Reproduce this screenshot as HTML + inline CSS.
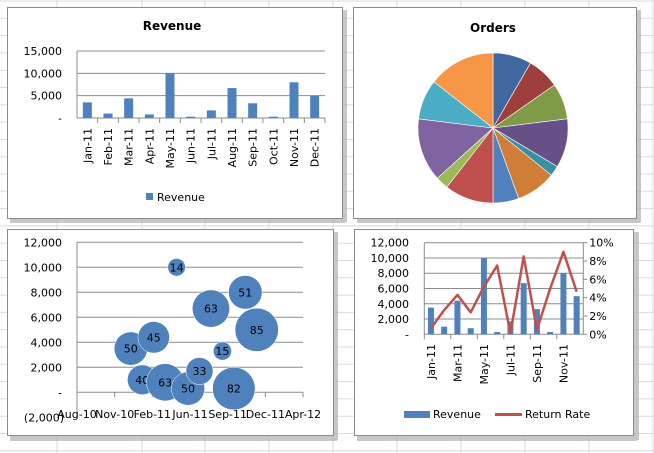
<!DOCTYPE html>
<html><head><meta charset="utf-8"><style>
body{margin:0;width:654px;height:453px;overflow:hidden;background:#fff;font-family:"DejaVu Sans",sans-serif;}
svg{position:absolute;left:0;top:0}
</style></head><body>
<svg width="654" height="453" font-family="DejaVu Sans, Liberation Sans, sans-serif">
<g id="grid" stroke="#d5dbe6" stroke-width="1"></g>
<g fill="#b0b0b0" opacity="0.7">
<rect x="10" y="219" width="335" height="4"/><rect x="343" y="10" width="4" height="212"/>
<rect x="357" y="219" width="283" height="4"/><rect x="637" y="10" width="4" height="212"/>
<rect x="10" y="436" width="327" height="5"/><rect x="334" y="232" width="4" height="208"/>
<rect x="357" y="436" width="280" height="5"/><rect x="634" y="232" width="5" height="208"/>
</g>
<rect x="7.5" y="7.5" width="335" height="211" fill="#fff" stroke="#8c8c8c"/>
<rect x="353.5" y="7.5" width="283" height="211" fill="#fff" stroke="#8c8c8c"/>
<rect x="7.5" y="229.5" width="326" height="206" fill="#fff" stroke="#8c8c8c"/>
<rect x="354.5" y="229.5" width="279" height="206" fill="#fff" stroke="#8c8c8c"/>
<g id="c1"></g><g id="c2"></g><g id="c3"></g><g id="c4"></g>
</svg>
<script>
const months=["Jan-11","Feb-11","Mar-11","Apr-11","May-11","Jun-11","Jul-11","Aug-11","Sep-11","Oct-11","Nov-11","Dec-11"];
const revenue=[3500,1000,4400,800,10000,300,1700,6700,3300,300,8000,5000];
const revTicks=[0,5000,10000,15000];
const orderSlices=[30,25,28,38,8,31,20,38,10,49,31,52];
const bubbleX=[0,1,2,3,4,5,6,7,8,9,10,11];
const bubbleY=[3500,1000,4400,800,10000,300,1700,6700,3300,300,8000,5000];
const bubbleSize=[50,40,45,63,14,50,33,63,15,82,51,85];
const bubbleXTicks=["Aug-10","Nov-10","Feb-11","Jun-11","Sep-11","Dec-11","Apr-12"];
const bubbleYTicks=[-2000,0,2000,4000,6000,8000,10000,12000];
const returnRate=[0.65,2.65,4.3,2.4,5.2,7.5,0.1,8.5,0.5,5.0,9.0,4.65];
const comboYTicks=[0,2000,4000,6000,8000,10000,12000];
const comboY2Ticks=[0,2,4,6,8,10];
const NS="http://www.w3.org/2000/svg";
function mk(p,tag,a,txt){const e=document.createElementNS(NS,tag);for(const k in a)e.setAttribute(k,a[k]);if(txt!==undefined)e.textContent=txt;p.appendChild(e);return e;}
function fmt(v){if(v===0)return "-";const s=Math.abs(v).toLocaleString("en-US");return v<0?"("+s+")":s;}
const g=document.getElementById("grid");
[57,142,205,269,333,397,461,525,589,653].forEach(x=>{const l=mk(g,"line",{x1:x,y1:0,x2:x,y2:453});});
for(let y=1;y<453;y+=17.3){const l=mk(g,"line",{x1:0,y1:y,x2:654,y2:y});}
// chart1
(function(){const c=document.getElementById("c1");
const x0=77,x1=325,y0=118,y1=51,max=15000;const bw=(x1-x0)/12;
const ys=v=>y0-(v/max)*(y0-y1);
let t=mk(c,"text",{x:172,y:30,"font-size":12,"font-weight":"bold","text-anchor":"middle"},"Revenue");
revTicks.forEach(v=>{if(v>0){const l=mk(c,"line",{x1:x0,x2:x1,y1:ys(v),y2:ys(v),stroke:"#8c8c8c"});}
const tt=mk(c,"text",{x:62,y:ys(v)+4,"font-size":11,"text-anchor":"end"},fmt(v));});
mk(c,"line",{x1:x0,x2:x0,y1:y1,y2:y0,stroke:"#8c8c8c"});
mk(c,"line",{x1:x0,x2:x1,y1:y0,y2:y0,stroke:"#8c8c8c"});
revenue.forEach((v,i)=>{const r=mk(c,"rect",{x:x0+i*bw+bw/2-4.5,y:ys(v),width:9,height:y0-ys(v),fill:"#4f81bd"});
mk(c,"line",{x1:x0+(i+1)*bw,x2:x0+(i+1)*bw,y1:y0,y2:y0+5,stroke:"#8c8c8c"});
const cx=x0+i*bw+bw/2+4;const l=mk(c,"text",{x:cx,y:128,"font-size":11,"text-anchor":"end",transform:`rotate(-90 ${cx} 128)`},months[i]);});
const lg=mk(c,"g",{});
mk(lg,"rect",{x:146,y:193,width:7,height:7,fill:"#4f81bd"});mk(lg,"text",{x:157,y:201,"font-size":11},"Revenue");})();
// chart2 pie
(function(){const c=document.getElementById("c2");
let t=mk(c,"text",{x:493,y:32,"font-size":12,"font-weight":"bold","text-anchor":"middle"},"Orders");
const cols=["#4068a0","#9e3f3e","#7f9b48","#674f88","#3a8fa3","#cf7d37","#4f81bd","#c0504d","#9bbb59","#8064a2","#4bacc6","#f79646"];
const tot=orderSlices.reduce((a,b)=>a+b,0);const cx=493,cy=128,r=75;let a=0;
orderSlices.forEach((v,i)=>{const a2=a+v/tot*2*Math.PI;
const p=(q)=>[cx+r*Math.sin(q),cy-r*Math.cos(q)];const [sx,sy]=p(a),[ex,ey]=p(a2);
const s=mk(c,"path",{d:`M${cx},${cy}L${sx},${sy}A${r},${r} 0 ${a2-a>Math.PI?1:0} 1 ${ex},${ey}Z`,fill:cols[i],stroke:"#fff","stroke-width":0.6});
a=a2;});})();
// chart3 bubble
(function(){const c=document.getElementById("c3");
const x0=77,x1=303,yTop=242.3,yZero=392.3,per=(yZero-yTop)/12000;const ys=v=>yZero-v*per;
const xmin=-4.7,step=3.29,pxm=(x1-x0)/(6*step);const xs=v=>x0+(v-xmin)*pxm;
bubbleYTicks.forEach(v=>{if(v>0){const l=mk(c,"line",{x1:x0,x2:x1,y1:ys(v),y2:ys(v),stroke:"#8c8c8c"});}
const tt=mk(c,"text",{x:v<0?64:62,y:ys(v)+4,"font-size":11,"text-anchor":"end"},fmt(v));});
mk(c,"line",{x1:x0,x2:x0,y1:yTop,y2:ys(-2000),stroke:"#8c8c8c"});
mk(c,"line",{x1:x0,x2:x1,y1:yZero,y2:yZero,stroke:"#8c8c8c"});
bubbleXTicks.forEach((s,i)=>{const x=x0+i*step*pxm;mk(c,"line",{x1:x,x2:x,y1:yZero,y2:yZero+5,stroke:"#8c8c8c"});
const tt=mk(c,"text",{x:x,y:418,"font-size":11,"text-anchor":"middle"},s);});
bubbleX.forEach((m,i)=>{const r=21.7*Math.sqrt(bubbleSize[i]/85);const cx=xs(m),cy=ys(bubbleY[i]);
const b=mk(c,"circle",{cx:cx,cy:cy,r:r,fill:"#4f81bd",stroke:"#fff","stroke-width":0.5});
const l=mk(c,"text",{x:cx,y:cy+4,"font-size":11,"text-anchor":"middle"},bubbleSize[i]);});})();
// chart4 combo
(function(){const c=document.getElementById("c4");
const x0=424.3,x1=583.3,y0=334.3,y1=242.7;const bw=(x1-x0)/12;
const ys=v=>y0-v/12000*(y0-y1),yr=v=>y0-v/10*(y0-y1);
comboYTicks.forEach(v=>{if(v>0){const l=mk(c,"line",{x1:x0,x2:x1,y1:ys(v),y2:ys(v),stroke:"#8c8c8c"});}
const tt=mk(c,"text",{x:409,y:ys(v)+4,"font-size":11,"text-anchor":"end"},fmt(v));});
comboY2Ticks.forEach(v=>{mk(c,"line",{x1:x1,x2:x1+4,y1:yr(v),y2:yr(v),stroke:"#8c8c8c"});
const tt=mk(c,"text",{x:x1+6,y:yr(v)+4,"font-size":11},v+"%");});
mk(c,"line",{x1:x0,x2:x0,y1:y1,y2:y0,stroke:"#8c8c8c"});mk(c,"line",{x1:x1,x2:x1,y1:y1,y2:y0,stroke:"#8c8c8c"});
mk(c,"line",{x1:x0,x2:x1,y1:y0,y2:y0,stroke:"#8c8c8c"});
revenue.forEach((v,i)=>{const r=mk(c,"rect",{x:x0+i*bw+bw/2-3,y:ys(v),width:6,height:y0-ys(v),fill:"#4f81bd"});
if(i%2==0){mk(c,"line",{x1:x0+i*bw,x2:x0+i*bw,y1:y0,y2:y0+5,stroke:"#8c8c8c"});
const cx=x0+i*bw+bw/2+4;const l=mk(c,"text",{x:cx,y:344,"font-size":11,"text-anchor":"end",transform:`rotate(-90 ${cx} 344)`},months[i]);}});
const pts=returnRate.map((v,i)=>(x0+i*bw+bw/2)+","+yr(v)).join(" ");
const pl=mk(c,"polyline",{points:pts,fill:"none",stroke:"#c0504d","stroke-width":2.5,"stroke-linejoin":"round"});
const l1=mk(c,"g",{});
mk(l1,"rect",{x:404,y:411,width:26,height:7,fill:"#4f81bd"});mk(l1,"text",{x:433,y:418,"font-size":11},"Revenue");
const l2=mk(c,"g",{});
mk(l2,"line",{x1:495,x2:522,y1:414.5,y2:414.5,stroke:"#c0504d","stroke-width":3});mk(l2,"text",{x:525,y:418,"font-size":11},"Return Rate");})();
</script>
</body></html>
